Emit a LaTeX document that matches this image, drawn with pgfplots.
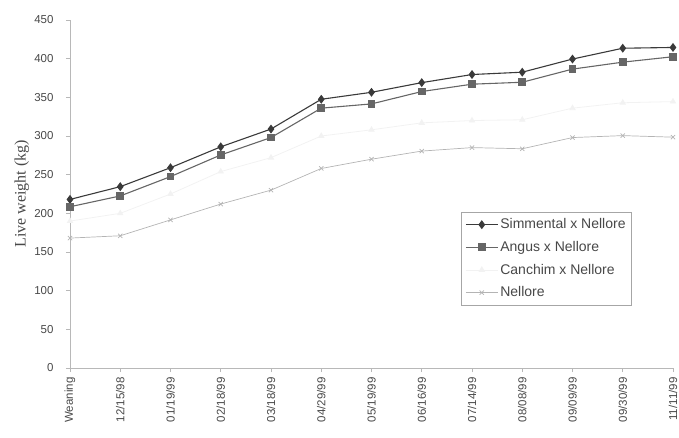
\documentclass[border=0pt]{standalone}
\usepackage{pgfplots}
\pgfplotsset{compat=1.18}
\usepackage{fontspec}
\setmainfont{Liberation Sans}
\newfontfamily\seriffont{Liberation Serif}
\definecolor{simc}{HTML}{3A3A3A}
\definecolor{angc}{HTML}{666666}
\definecolor{canc}{HTML}{F2F2F2}
\definecolor{nelc}{HTML}{B4B4B4}
\definecolor{txtc}{HTML}{484848}
\definecolor{axc}{HTML}{B8B8B8}
\begin{document}
\begin{tikzpicture}
\useasboundingbox (-70pt,-69pt) rectangle (609pt,368pt);
\begin{axis}[
  scale only axis,
  width=603pt, height=348pt,
  xmin=0, xmax=12, ymin=0, ymax=450,
  axis x line*=bottom, axis y line*=left,
  axis line style={axc, line width=0.6pt},
  xtick={0,...,12},
  xticklabels={Weaning,12/15/98,01/19/99,02/18/99,03/18/99,04/29/99,05/19/99,06/16/99,07/14/99,08/08/99,09/09/99,09/30/99,11/11/99},
  x tick label style={rotate=90, anchor=east, font=\fontsize{11.5}{13}\selectfont, text=txtc},
  ytick={0,50,...,450},
  y tick label style={font=\fontsize{11.5}{13}\selectfont, text=txtc},
  /pgf/number format/assume math mode=true,
  tick style={axc, line width=0.6pt},
  tick align=outside,
  major tick length=4pt,
  xticklabel shift=2pt,
  yticklabel shift=9pt,
  ylabel={\seriffont Live weight (kg)},
  ylabel style={font=\fontsize{16}{18}\selectfont, text=txtc, at={(axis description cs:-0.0800,0.5)}, anchor=center},
  clip=false,
  legend style={at={(rel axis cs:0.6484,0.448)}, anchor=north west,
    draw=black!35, line width=0.5pt, inner xsep=4pt, inner ysep=4.5pt,
    font=\fontsize{14}{16}\selectfont, text=txtc, row sep=7pt},
  legend cell align=left,
  legend image code/.code={\draw[mark repeat=2, mark phase=2] plot coordinates {(0pt,0pt) (16pt,0pt) (32pt,0pt)};},
]
\addplot[simc, line width=1.1pt, mark=diamond*, mark size=3.6pt, mark options={fill=simc, solid}] coordinates {
(0,218) (1,234.5) (2,259) (3,286) (4,309) (5,347.5) (6,356.5) (7,369) (8,379.5) (9,382.5) (10,399.5) (11,413.5) (12,414.5)};
\addlegendentry{Simmental x Nellore}
\addplot[angc, line width=1.1pt, mark=square*, mark size=3.3pt, mark options={fill=angc, solid}] coordinates {
(0,208.5) (1,222.5) (2,247.5) (3,275.5) (4,298) (5,336) (6,341.5) (7,357.5) (8,367) (9,369.5) (10,386.5) (11,395.5) (12,402.5)};
\addlegendentry{Angus x Nellore}
\addplot[canc, line width=0.8pt, mark=triangle*, mark size=3pt, mark options={fill=canc, solid}] coordinates {
(0,190) (1,200) (2,225) (3,254) (4,272) (5,300) (6,308) (7,317) (8,320) (9,321) (10,336) (11,343) (12,344.5)};
\addlegendentry{Canchim x Nellore}
\addplot[nelc, line width=0.7pt, mark=x, mark size=3pt, mark options={solid}] coordinates {
(0,168) (1,171) (2,191.5) (3,212) (4,230) (5,258) (6,270) (7,280.5) (8,285) (9,283.5) (10,298) (11,300.5) (12,298.5)};
\addlegendentry{Nellore}
\end{axis}
\end{tikzpicture}
\end{document}
